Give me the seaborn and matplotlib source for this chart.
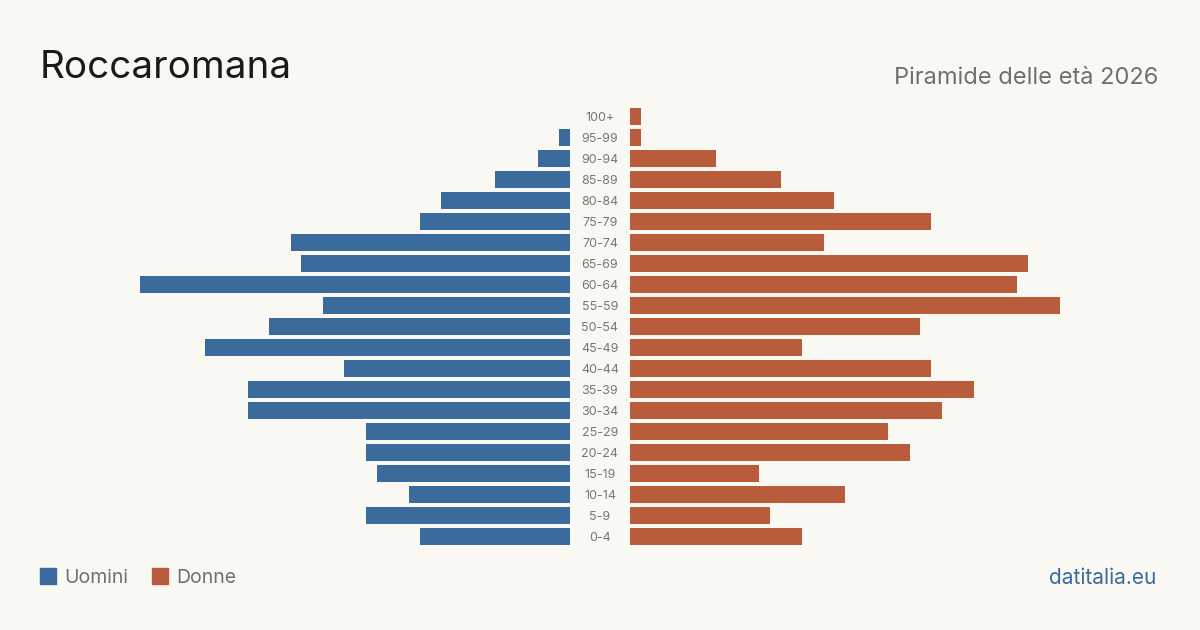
import matplotlib
matplotlib.use("Agg")
import matplotlib.pyplot as plt
import matplotlib.transforms as mtransforms
import seaborn as sns
import pandas as pd

ages = ["100+", "95-99", "90-94", "85-89", "80-84", "75-79", "70-74", "65-69",
        "60-64", "55-59", "50-54", "45-49", "40-44", "35-39", "30-34", "25-29",
        "20-24", "15-19", "10-14", "5-9", "0-4"]
men = [0, 1, 3, 7, 12, 14, 26, 25, 40, 23, 28, 34, 21, 30, 30, 19, 19, 18, 15, 19, 14]
women = [1, 1, 8, 14, 19, 28, 18, 37, 36, 40, 27, 16, 28, 32, 29, 24, 26, 12, 20, 13, 16]

BG = "#faf8f3"
BLUE = "#3b6b9c"
ORANGE = "#b95c3b"

sns.set_theme(style="white")
plt.rcParams["font.family"] = ["Inter", "DejaVu Sans"]

df = pd.DataFrame({"age": ages, "men": men, "women": women})

fig = plt.figure(figsize=(12, 6.3), dpi=100, facecolor=BG)

bottom = 1 - 546.8 / 630
height = (546.8 - 106) / 630
axL = fig.add_axes([140 / 1200, bottom, 430 / 1200, height])
axR = fig.add_axes([630 / 1200, bottom, 430 / 1200, height])

sns.barplot(data=df, y="age", x="men", order=ages, color=BLUE, width=0.79,
            saturation=1, linewidth=0, ax=axL)
sns.barplot(data=df, y="age", x="women", order=ages, color=ORANGE, width=0.79,
            saturation=1, linewidth=0, ax=axR)

axL.set_xlim(40, 0)
axR.set_xlim(0, 40)
for ax in (axL, axR):
    ax.set_ylim(len(ages) - 0.5, -0.5)
    ax.set_facecolor("none")
    ax.axis("off")

trans = mtransforms.blended_transform_factory(fig.transFigure, axL.transData)
for i, a in enumerate(ages):
    axL.text(600 / 1200, i + 0.08, a, transform=trans, ha="center", va="center",
             fontsize=9, color="#777777")

fig.text(40 / 1200, 1 - 68 / 630, "Roccaromana", fontsize=27.8, color="#1a1a1a",
         ha="left", va="center")
fig.text(1158 / 1200, 1 - 78 / 630, "Piramide delle età 2026", fontsize=17,
         color="#707070", ha="right", va="center")

# legend
for x0, col, lab in [(40, BLUE, "Uomini"), (152, ORANGE, "Donne")]:
    fig.patches.append(plt.Rectangle((x0 / 1200, 1 - 584 / 630), 16 / 1200, 16 / 630,
                                     transform=fig.transFigure, color=col, zorder=3))
    fig.text((x0 + 24) / 1200, 1 - 578 / 630, lab, fontsize=14, color="#707070",
             ha="left", va="center")

fig.text(1156 / 1200, 1 - 578 / 630, "datitalia.eu", fontsize=15, color=BLUE,
         ha="right", va="center")

fig.savefig("out.png", dpi=100, facecolor=BG)
